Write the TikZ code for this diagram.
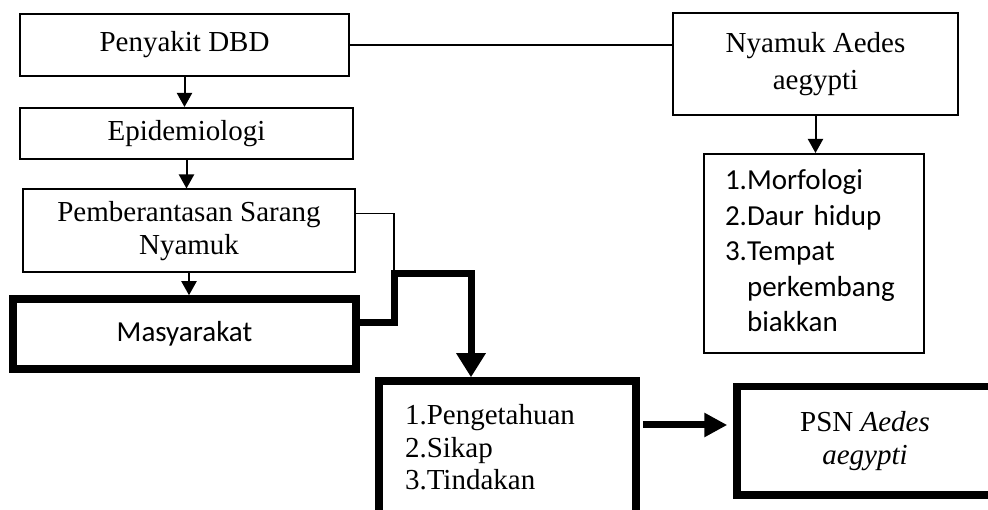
\documentclass[tikz,border=0pt]{standalone}
\usepackage{fontspec}
\setmainfont{Liberation Serif}
\newfontfamily\calibri{Carlito}
\usepackage{tikz}
\usetikzlibrary{arrows.meta,calc}
\def\textsize{\fontsize{29pt}{33pt}\selectfont}
\def\boldsep{36.5pt}
\tikzstyle{arrow} = [line width=2pt,-{Triangle[length=14pt,width=15pt]}]
\tikzstyle{bold arrow} = [line width=7pt,-{Triangle[length=24pt,width=28pt]}]

\begin{document}
\begin{tikzpicture}[x=1pt,y=-1pt]
    \tikzstyle{box}=[draw,rectangle,line width=2pt,inner sep=0pt,font=\textsize,align=center]
    \tikzstyle{bold box}=[box,line width=7.5pt]
    \tikzstyle{link}=[line width=2pt]

    \useasboundingbox (0,0) rectangle (988,510);

    % Draw the left column
    \node[box,minimum width=329pt,minimum height=62pt] (penyakit) at (184.5,45) {Penyakit DBD};
    \node[box,minimum width=333pt,minimum height=51pt] (epi) at (186.5,133.5) {Epidemiologi};
    \node[box,minimum width=332pt,minimum height=83pt] (pemb) at (189,231) {Pemberantasan Sarang\\Nyamuk};
    \node[bold box,minimum width=343pt,minimum height=70pt,font=\textsize\calibri] (masy) at (184.5,334) {Masyarakat};

    % Draw the right column
    \node[box,minimum width=285pt,minimum height=102pt,font=\fontsize{29pt}{37pt}\selectfont] (nyamuk) at (815.5,64) {Nyamuk Aedes\\aegypti};
    \node[box,minimum width=220pt,minimum height=199pt,text width=178pt,align=left,
          font=\fontsize{29pt}{35.5pt}\selectfont\calibri] (ciri) at (814,253.5)
          {\begin{tabular}{@{}l@{}l@{}}1.&Morfologi\\2.&Daur hidup\\3.&Tempat\\&perkembang\\&biakkan\end{tabular}};

    % Draw the bottom row
    \node[bold box,minimum width=257pt,minimum height=133pt,text width=205pt,align=left,
          font=\fontsize{29pt}{32.5pt}\selectfont] (tahu) at (507.5,447.5)
          {1.Pengetahuan\\2.Sikap\\3.Tindakan};
    \node[bold box,minimum width=256pt,minimum height=108.5pt] (psn) at (865,440.75) {PSN \textit{Aedes}\\\textit{aegypti}};

    % Draw the connectors
    \draw[arrow] (penyakit.south) -- (penyakit.south |- epi.north);
    \draw[arrow] (epi.south) -- (epi.south |- pemb.north);
    \draw[arrow] (pemb.south) -- (pemb.south |- masy.north);
    \draw[link] (penyakit.east) -- (penyakit.east -| nyamuk.west);
    \draw[arrow] (nyamuk.south) -- (nyamuk.south |- ciri.north);

    \coordinate (bend) at (394,274);
    \draw[line width=1.5pt] ([yshift=17.5pt]pemb.east) -| (bend);
    \draw[bold arrow] ([yshift=11pt]masy.east) -| (bend) -| ([xshift=-\boldsep]tahu.north);
    \draw[bold arrow,-{Triangle[length=23pt,width=23pt]},shorten <=3pt,shorten >=6pt]
        ([yshift=22.5pt]tahu.east) -- ([yshift=22.5pt]tahu.east -| psn.west);
\end{tikzpicture}
\end{document}
